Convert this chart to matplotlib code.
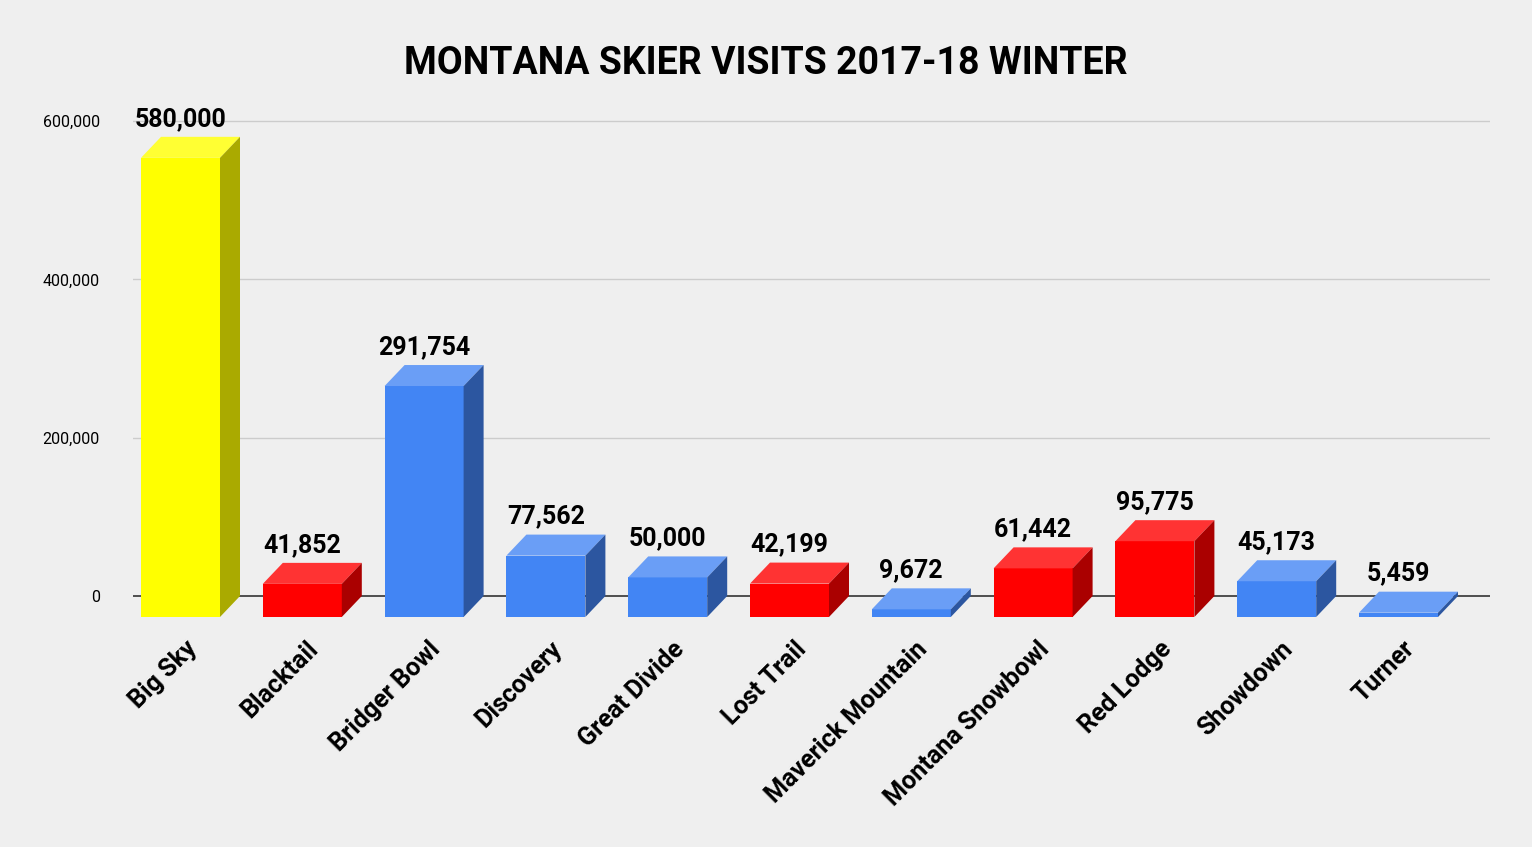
import matplotlib
matplotlib.use("Agg")
import matplotlib.pyplot as plt
from matplotlib.patches import Polygon
import numpy as np

resorts = ["Big Sky", "Blacktail", "Bridger Bowl", "Discovery", "Great Divide",
           "Lost Trail", "Maverick Mountain", "Montana Snowbowl", "Red Lodge",
           "Showdown", "Turner"]
visits = [580000, 41852, 291754, 77562, 50000, 42199, 9672, 61442, 95775, 45173, 5459]
groups = ["yellow", "red", "blue", "blue", "blue", "red", "blue", "red", "red", "blue", "blue"]

# front / top / side shades
palette = {
    "yellow": ("#ffff00", "#ffff33", "#aaaa00"),
    "red": ("#ff0000", "#ff3333", "#aa0000"),
    "blue": ("#4285f4", "#6a9ef6", "#2c56a0"),
}

plt.rcParams['font.family'] = ['Roboto', 'DejaVu Sans']
bg = "#efefef"

fig = plt.figure(figsize=(15.32, 8.47), dpi=100, facecolor=bg)
# axes: left 133px, right 1490px, top 100px, bottom 620px
ax = fig.add_axes([133 / 1532, 1 - 620 / 847, 1357 / 1532, 520 / 847], facecolor=bg)

px_x = 121.8                 # pixels per category
px_y = 158.33 / 200000       # pixels per visit
ddx = 20 / px_x              # depth offset in data units
ddy = 21 / px_y
w = 79 / px_x

ax.set_xlim((133 - 200.5) / px_x, (1490 - 200.5) / px_x)
ax.set_ylim(-24 / px_y, 600000 + 21 / px_y)

for t in [200000, 400000, 600000]:
    ax.axhline(t, color="#cccccc", lw=1, zorder=0)
ax.axhline(0, color="#333333", lw=1.2, zorder=0)

x = np.arange(len(resorts))
xf = x - ddx
fronts = [palette[g][0] for g in groups]
ax.bar(xf, visits, width=w, bottom=-ddy, color=fronts, zorder=3, linewidth=0)

for i, v in enumerate(visits):
    front, top, side = palette[groups[i]]
    l, r = xf[i] - w / 2, xf[i] + w / 2
    top_face = Polygon([(l, v - ddy), (r, v - ddy), (r + ddx, v), (l + ddx, v)],
                       closed=True, facecolor=top, edgecolor="none", zorder=3)
    side_face = Polygon([(r, -ddy), (r + ddx, 0), (r + ddx, v), (r, v - ddy)],
                        closed=True, facecolor=side, edgecolor="none", zorder=3)
    ax.add_patch(top_face)
    ax.add_patch(side_face)
    ax.text(xf[i], v + 6 / px_y, f"{v:,}", ha="center", va="bottom",
            fontsize=18, fontweight="bold", color="#000000", zorder=4, clip_on=False)

ax.set_yticks([0, 200000, 400000, 600000])
ax.set_yticklabels(["0", "200,000", "400,000", "600,000"], fontsize=11.5)
ax.tick_params(axis="y", length=0, pad=24)

ax.set_xticks(x - 0.13)
ax.set_xticklabels(resorts, rotation=45, ha="right", rotation_mode="anchor",
                   fontsize=18, fontweight="bold")
ax.tick_params(axis="x", length=0, pad=12)

for s in ax.spines.values():
    s.set_visible(False)

fig.text(0.5, 1 - 64 / 847, "MONTANA SKIER VISITS 2017-18 WINTER", ha="center",
         va="center", fontsize=27, fontweight="bold", color="#000000")

fig.savefig("out.png", dpi=100, facecolor=bg)
